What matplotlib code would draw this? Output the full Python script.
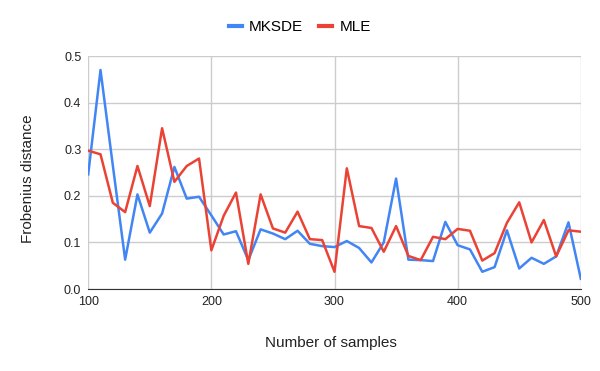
import matplotlib
matplotlib.use("Agg")
import matplotlib.pyplot as plt

# ==========================
# Data
# ==========================

samples = list(range(100, 501, 10))

mksde = [0.246, 0.470, 0.265, 0.063, 0.203, 0.121, 0.162, 0.262, 0.194, 0.198,
         0.158, 0.117, 0.124, 0.062, 0.128, 0.119, 0.107, 0.125, 0.097, 0.092,
         0.090, 0.103, 0.088, 0.057, 0.100, 0.237, 0.063, 0.062, 0.060, 0.144,
         0.094, 0.085, 0.037, 0.047, 0.126, 0.044, 0.067, 0.054, 0.070, 0.143,
         0.022]

mle = [0.297, 0.289, 0.185, 0.165, 0.264, 0.178, 0.345, 0.230, 0.264, 0.280,
       0.083, 0.157, 0.207, 0.054, 0.203, 0.130, 0.121, 0.166, 0.107, 0.105,
       0.037, 0.259, 0.135, 0.131, 0.080, 0.135, 0.071, 0.062, 0.112, 0.107,
       0.129, 0.125, 0.061, 0.077, 0.142, 0.186, 0.100, 0.148, 0.070, 0.126,
       0.123]

x_ticks = [100, 200, 300, 400, 500]
y_ticks = [0.0, 0.1, 0.2, 0.3, 0.4, 0.5]

plt.rcParams["font.family"] = ["Liberation Sans", "DejaVu Sans"]

# ==========================
# Plot
# ==========================

fig = plt.figure(figsize=(6, 3.71), dpi=100)
ax = fig.add_axes([0.147, 0.221, 0.821, 0.628])

ax.plot(samples, mksde, color="#4285F4", linewidth=1.8, label="MKSDE")
ax.plot(samples, mle, color="#EA4335", linewidth=1.8, label="MLE")

ax.set_xlim(100, 500)
ax.set_ylim(0, 0.5)
ax.set_xticks(x_ticks)
ax.set_yticks(y_ticks)
ax.set_yticklabels([f"{v:.1f}" for v in y_ticks])

ax.grid(True, color="#cccccc", linewidth=1)
ax.set_axisbelow(True)
for side in ["top", "right", "left"]:
    ax.spines[side].set_visible(False)
ax.spines["bottom"].set_color("#333333")
ax.tick_params(length=0, labelsize=9, colors="#222222", pad=5)

ax.set_xlabel("Number of samples", fontsize=11, color="#222222")
ax.set_ylabel("Frobenius distance", fontsize=11, color="#222222")
ax.xaxis.set_label_coords(0.493, -0.2)
ax.yaxis.set_label_coords(-0.107, 0.472)

fig.legend(loc="center", bbox_to_anchor=(0.5, 0.926), ncol=2, frameon=False,
           fontsize=11, handlelength=0.85, handletextpad=0.5, columnspacing=1.05)
for line in fig.legends[0].get_lines():
    line.set_linewidth(3)

fig.savefig("out.png", dpi=100)
